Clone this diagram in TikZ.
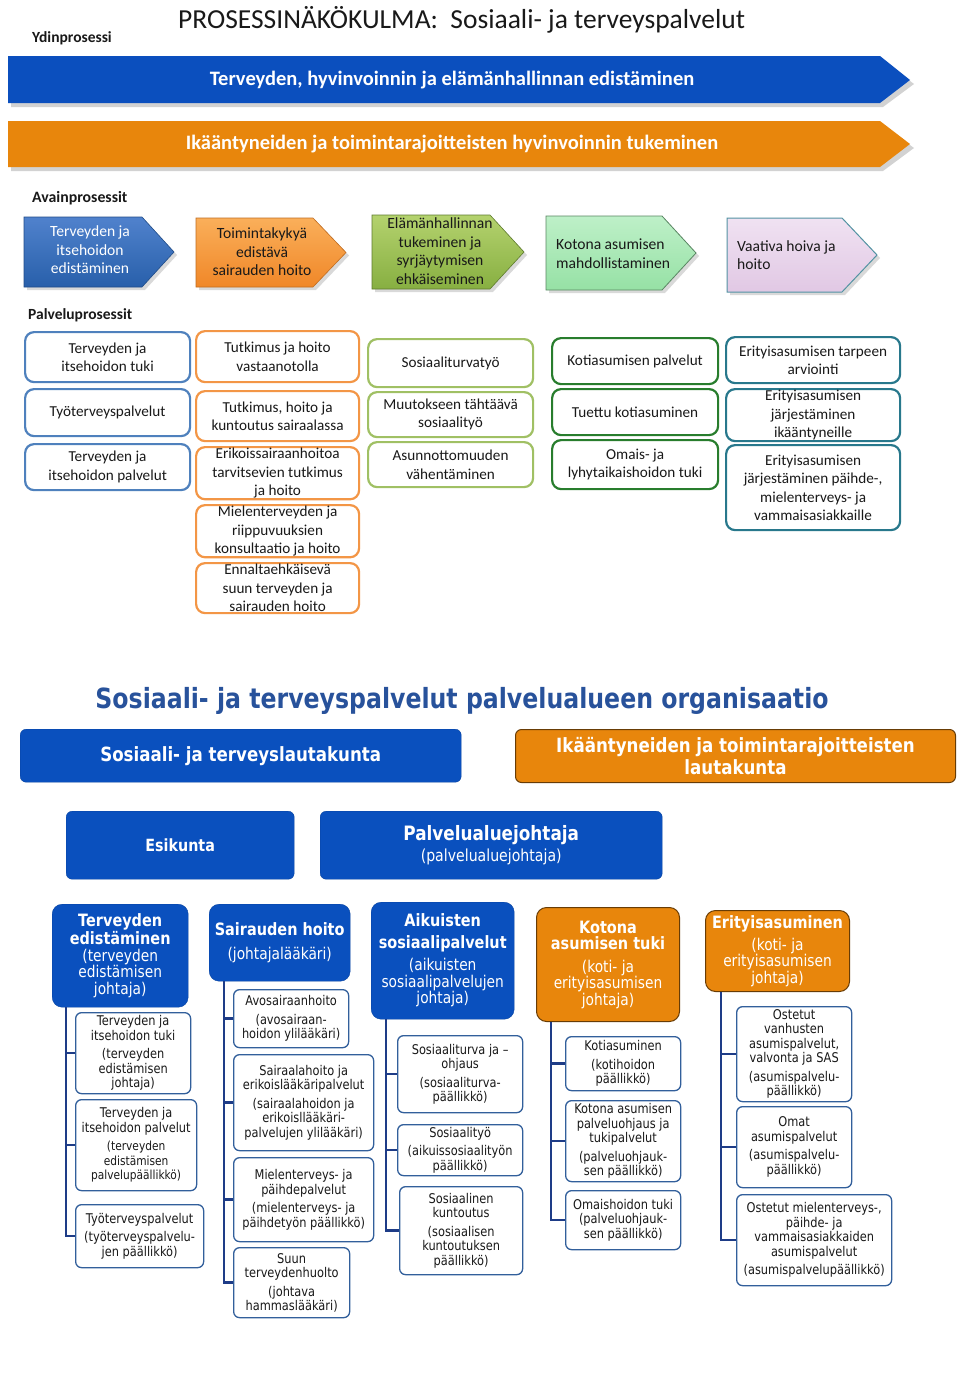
\documentclass[tikz,border=0pt]{standalone}
\usepackage{fontspec}
\setmainfont{Carlito}
\newfontfamily\vf[FakeStretch=0.85]{DejaVu Sans}
\usetikzlibrary{backgrounds}
\definecolor{banblue}{RGB}{11,79,190}
\definecolor{banorange}{RGB}{232,134,12}
\definecolor{ppblue}{RGB}{79,129,189}
\definecolor{pporange}{RGB}{243,150,70}
\definecolor{ppolive}{RGB}{160,192,100}
\definecolor{ppgreen}{RGB}{40,125,45}
\definecolor{ppteal}{RGB}{40,120,140}
\definecolor{orgblue}{RGB}{10,80,190}
\definecolor{orgorange}{RGB}{232,134,12}
\definecolor{orgtitle}{RGB}{40,82,155}
\definecolor{spinec}{RGB}{30,60,135}
\definecolor{lbord}{RGB}{50,95,155}
\definecolor{txt}{RGB}{25,25,25}
\definecolor{a1top}{RGB}{80,130,205}
\definecolor{a1bot}{RGB}{40,95,170}
\definecolor{a2top}{RGB}{250,175,90}
\definecolor{a2bot}{RGB}{240,135,40}
\definecolor{a3top}{RGB}{180,210,110}
\definecolor{a3bot}{RGB}{135,175,65}
\definecolor{a4top}{RGB}{190,240,200}
\definecolor{a4bot}{RGB}{150,225,165}
\definecolor{a5top}{RGB}{240,226,242}
\definecolor{a5bot}{RGB}{225,200,228}
\newcommand\myhead{\bfseries\fontsize{17}{18}\selectfont}
\begin{document}
\begin{tikzpicture}[x=1pt,y=-1pt,
  lbl/.style={inner sep=0pt, anchor=west, text=txt},
  bantext/.style={inner sep=0pt, text=white, font=\bfseries\fontsize{20.5}{22}\selectfont},
  ptext/.style={inner sep=0pt, align=center, font=\fontsize{15.6}{18.5}\selectfont},
  pp/.style={draw, line width=2.2pt, rounded corners=9pt, fill=white, align=center, anchor=north west, inner sep=1pt, text=txt, font=\fontsize{15.2}{18.5}\selectfont},
  org/.style={rounded corners=6pt, fill=orgblue, draw=orgblue!85!black, text=white, align=center, anchor=north west, inner sep=1pt},
  orgo/.style={org, fill=orgorange, draw=black!55!orgorange, line width=1pt},
  l2/.style={org, rounded corners=10pt, font=\vf\fontsize{16.2}{16.5}\selectfont},
  l2o/.style={l2, fill=orgorange, draw=black!55!orgorange, line width=1pt},
  l3/.style={draw=lbord, line width=1.3pt, rounded corners=6pt, fill=white, align=center, anchor=north west, inner sep=1pt, text=txt, font=\vf\fontsize{13.4}{14.5}\selectfont},
  spine/.style={draw=spinec, line width=2.6pt},
  conn/.style={draw=orgblue, line width=2pt}
]
\useasboundingbox[fill=white] (0,0) rectangle (960,1384);

% ---------- title ----------
\node[lbl, font=\fontsize{27.5}{30}\selectfont] (title) at (178,20) {PROSESSINÄKÖKULMA:\ \ Sosiaali- ja terveyspalvelut};
\node[lbl, font=\bfseries\fontsize{15.5}{17}\selectfont] (ydin) at (32,38) {Ydinprosessi};

% ---------- banners ----------
\fill[gray!35] (11,60) -- (883,60) -- (914,84) -- (883,107) -- (11,107) -- cycle;
\fill[banblue] (8,56) -- (880,56) -- (910,80) -- (880,103) -- (8,103) -- cycle;
\node[bantext] (ban1) at (452,80) {Terveyden, hyvinvoinnin ja elämänhallinnan edistäminen};
\fill[gray!35] (11,125) -- (883,125) -- (914,148) -- (883,171) -- (11,171) -- cycle;
\fill[banorange] (8,121) -- (880,121) -- (910,144) -- (880,167) -- (8,167) -- cycle;
\node[bantext] (ban2) at (452,144) {Ikääntyneiden ja toimintarajoitteisten hyvinvoinnin tukeminen};

% ---------- avainprosessit ----------
\node[lbl, font=\bfseries\fontsize{15.8}{17}\selectfont] (avain) at (32,198) {Avainprosessit};
\foreach \xa/\xb/\xc/\ya/\yb in {24/142/174/217/287, 196/313/346/218/287, 372/490/524/215/289, 546/662/696/216/290, 727/842/877/218/292}
  \fill[gray!30] (\xa+3,\ya+3) -- (\xb+3,\ya+3) -- (\xc+3,{(\ya+\yb)/2+3}) -- (\xb+3,\yb+3) -- (\xa+3,\yb+3) -- cycle;
\path[draw=a1bot!80!black, top color=a1top, bottom color=a1bot, line width=0.6pt]
  (24,217) -- (142,217) -- (174,252) -- (142,287) -- (24,287) -- cycle;
\path[draw=a2bot!80!black, top color=a2top, bottom color=a2bot, line width=0.6pt]
  (196,218) -- (313,218) -- (346,252.5) -- (313,287) -- (196,287) -- cycle;
\path[draw=a3bot!70!black, top color=a3top, bottom color=a3bot, line width=0.6pt]
  (372,215) -- (490,215) -- (524,252) -- (490,289) -- (372,289) -- cycle;
\path[draw=a4bot!60!black, top color=a4top, bottom color=a4bot, line width=0.8pt]
  (546,216) -- (662,216) -- (696,253) -- (662,290) -- (546,290) -- cycle;
\path[draw=ppteal!80!white, top color=a5top, bottom color=a5bot, line width=1pt]
  (727,218) -- (842,218) -- (877,255) -- (842,292) -- (727,292) -- cycle;
\node[ptext, text=white] (a1) at (90,250) {Terveyden ja\\itsehoidon\\edistäminen};
\node[ptext, text=txt] (a2) at (262,252) {Toimintakykyä\\edistävä\\sairauden hoito};
\node[ptext, text=txt] (a3) at (440,251) {Elämänhallinnan\\tukeminen ja\\syrjäytymisen\\ehkäiseminen};
\node[ptext, text=txt, align=left, anchor=west] (a4) at (556,253.5) {Kotona asumisen\\mahdollistaminen};
\node[ptext, text=txt, align=left, anchor=west] (a5) at (737,255) {Vaativa hoiva ja\\hoito};

% ---------- palveluprosessit ----------
\node[lbl, font=\bfseries\fontsize{15.5}{17}\selectfont] (palvelu) at (28,315) {Palveluprosessit};
\node[pp, draw=ppblue, minimum width=165, minimum height=50] (p11) at (24,331) {Terveyden ja\\itsehoidon tuki};
\node[pp, draw=ppblue, minimum width=165, minimum height=47] (p12) at (24,388) {Työterveyspalvelut};
\node[pp, draw=ppblue, minimum width=165, minimum height=46] (p13) at (24,443) {Terveyden ja\\itsehoidon palvelut};
\node[pp, draw=pporange, minimum width=163, minimum height=51] (p21) at (195,330) {Tutkimus ja hoito\\vastaanotolla};
\node[pp, draw=pporange, minimum width=163, minimum height=50] (p22) at (195,390) {Tutkimus, hoito ja\\kuntoutus sairaalassa};
\node[pp, draw=pporange, minimum width=163, minimum height=49] (p23) at (195,446) {Erikoissairaanhoitoa\\tarvitsevien tutkimus\\ja hoito};
\node[pp, draw=pporange, minimum width=163, minimum height=50] (p24) at (195,504) {Mielenterveyden ja\\riippuvuuksien\\konsultaatio ja hoito};
\node[pp, draw=pporange, minimum width=163, minimum height=50] (p25) at (195,562) {Ennaltaehkäisevä\\suun terveyden ja\\sairauden hoito};
\node[pp, draw=ppolive, minimum width=165, minimum height=48] (p31) at (367,338) {Sosiaaliturvatyö};
\node[pp, draw=ppolive, minimum width=165, minimum height=45] (p32) at (367,391) {Muutokseen tähtäävä\\sosiaalityö};
\node[pp, draw=ppolive, minimum width=165, minimum height=45] (p33) at (367,441) {Asunnottomuuden\\vähentäminen};
\node[pp, draw=ppgreen, minimum width=166, minimum height=46] (p41) at (551,337) {Kotiasumisen palvelut};
\node[pp, draw=ppgreen, minimum width=166, minimum height=46] (p42) at (551,388) {Tuettu kotiasuminen};
\node[pp, draw=ppgreen, minimum width=166, minimum height=49] (p43) at (551,439) {Omais- ja\\lyhytaikaishoidon tuki};
\node[pp, draw=ppteal, minimum width=174, minimum height=46] (p51) at (725,336) {Erityisasumisen tarpeen\\arviointi};
\node[pp, draw=ppteal, minimum width=174, minimum height=52] (p52) at (725,388) {Erityisasumisen\\järjestäminen\\ikääntyneille};
\node[pp, draw=ppteal, minimum width=174, minimum height=85] (p53) at (725,444) {Erityisasumisen\\järjestäminen päihde-,\\mielenterveys- ja\\vammaisasiakkaille};

% ---------- organisation ----------
\node[inner sep=0pt, text=orgtitle, font=\vf\bfseries\fontsize{27.8}{30}\selectfont] (orgtitle) at (462,701) {Sosiaali- ja terveyspalvelut palvelualueen organisaatio};

\node[org, minimum width=441, minimum height=53, font=\vf\bfseries\fontsize{19.6}{22}\selectfont] (slk) at (20,729) {Sosiaali- ja terveyslautakunta};
\node[orgo, minimum width=440, minimum height=53, font=\vf\bfseries\fontsize{19.6}{22}\selectfont] (ilk) at (515,729) {Ikääntyneiden ja toimintarajoitteisten\\lautakunta};
\node[org, minimum width=228, minimum height=68, font=\vf\bfseries\fontsize{16.8}{20}\selectfont] (esk) at (66,811) {Esikunta};
\node[org, minimum width=342, minimum height=68, font=\vf\fontsize{16.6}{21}\selectfont] (pj) at (320,811) {{\bfseries\fontsize{19.8}{21}\selectfont Palvelualuejohtaja}\\(palvelualuejohtaja)};

\node[l2, minimum width=136, minimum height=103] (l2a) at (52,904) {{\myhead Terveyden}\\{\myhead edistäminen}\\(terveyden\\edistämisen\\johtaja)};
\node[l2, minimum width=141, minimum height=77] (l2b) at (209,904) {{\myhead Sairauden hoito}\\[7pt](johtajalääkäri)};
\node[l2, minimum width=143, minimum height=117] (l2c) at (371,902) {{\myhead Aikuisten}\\[5pt]{\myhead sosiaalipalvelut}\\[6pt](aikuisten\\sosiaalipalvelujen\\johtaja)};
\node[l2o, minimum width=143, minimum height=114] (l2d) at (536,907) {{\myhead Kotona}\\{\myhead asumisen tuki}\\[6pt](koti- ja\\erityisasumisen\\johtaja)};
\node[l2o, minimum width=144, minimum height=81] (l2e) at (705,910) {{\myhead Erityisasuminen}\\[5pt](koti- ja\\erityisasumisen\\johtaja)};

\begin{scope}[on background layer]
  \coordinate (jn) at (pj.north |- slk.east);
  \draw[conn] (slk.east) -- (ilk.west);
  \draw[conn] (jn) -- (pj.north);
  \draw[conn] (esk.east) -- (pj.west);
  \coordinate (bus) at (pj.south |- 0,905);
  \coordinate (busR) at (763,905);
  \draw[conn] (pj.south) -- (bus);
  \draw[conn] (l2a.north |- bus) -- (busR) -- (busR |- l2e.north);
\end{scope}

% level 3
\node[l3, minimum width=115, minimum height=81] (c1a) at (75,1012) {Terveyden ja\\itsehoidon tuki\\[4pt](terveyden\\edistämisen\\johtaja)};
\node[l3, minimum width=121, minimum height=91] (c1b) at (75,1099) {Terveyden ja\\itsehoidon palvelut\\[4pt]{\fontsize{12.5}{13}\selectfont(terveyden}\\{\fontsize{12.5}{13}\selectfont edistämisen}\\{\fontsize{12.5}{13}\selectfont palvelupäällikkö)}};
\node[l3, minimum width=128, minimum height=63] (c1c) at (75,1204) {Työterveyspalvelut\\[4pt](työterveyspalvelu-\\jen päällikkö)};
\node[l3, minimum width=115, minimum height=58] (c2a) at (233,989) {Avosairaanhoito\\[4pt](avosairaan-\\hoidon ylilääkäri)};
\node[l3, minimum width=140, minimum height=96] (c2b) at (233,1054) {Sairaalahoito ja\\erikoislääkäripalvelut\\[4pt](sairaalahoidon ja\\erikoisllääkäri-\\palvelujen ylilääkäri)};
\node[l3, minimum width=140, minimum height=84] (c2c) at (233,1157) {Mielenterveys- ja\\päihdepalvelut\\[4pt](mielenterveys- ja\\päihdetyön päällikkö)};
\node[l3, minimum width=116, minimum height=70] (c2d) at (233,1247) {Suun\\terveydenhuolto\\[4pt](johtava\\hammaslääkäri)};
\node[l3, minimum width=125, minimum height=77] (c3a) at (397,1035) {Sosiaaliturva ja –\\ohjaus\\[4pt](sosiaaliturva-\\päällikkö)};
\node[l3, minimum width=125, minimum height=51] (c3b) at (397,1124) {Sosiaalityö\\[4pt](aikuissosiaalityön\\päällikkö)};
\node[l3, minimum width=123, minimum height=88] (c3c) at (399,1186) {Sosiaalinen\\kuntoutus\\[4pt](sosiaalisen\\kuntoutuksen\\päällikkö)};
\node[l3, minimum width=115, minimum height=54] (c4a) at (565,1036) {Kotiasuminen\\[4pt](kotihoidon\\päällikkö)};
\node[l3, minimum width=115, minimum height=81] (c4b) at (565,1100) {Kotona asumisen\\palveluohjaus ja\\tukipalvelut\\[4pt](palveluohjauk-\\sen päällikkö)};
\node[l3, minimum width=115, minimum height=59] (c4c) at (565,1190) {Omaishoidon tuki\\(palveluohjauk-\\sen päällikkö)};
\node[l3, minimum width=115, minimum height=95] (c5a) at (736,1006) {Ostetut\\vanhusten\\asumispalvelut,\\valvonta ja SAS\\[4pt](asumispalvelu-\\päällikkö)};
\node[l3, minimum width=115, minimum height=81] (c5b) at (736,1106) {Omat\\asumispalvelut\\[4pt](asumispalvelu-\\päällikkö)};
\node[l3, minimum width=155, minimum height=91] (c5c) at (736,1194) {Ostetut mielenterveys-,\\päihde- ja\\vammaisasiakkaiden\\asumispalvelut\\[4pt](asumispalvelupäällikkö)};

% spines
\coordinate (s1) at (66,0);
\coordinate (s2) at (224,0);
\coordinate (s3) at (386,0);
\coordinate (s4) at (551,0);
\coordinate (s5) at (721,0);
\draw[spine] (s1 |- l2a.south) |- (c1c.west);
\draw[spine] (s1 |- c1a.west) -- (c1a.west);
\draw[spine] (s1 |- c1b.west) -- (c1b.west);
\draw[spine] (s2 |- l2b.south) |- (c2d.west);
\draw[spine] (s2 |- c2a.west) -- (c2a.west);
\draw[spine] (s2 |- c2b.west) -- (c2b.west);
\draw[spine] (s2 |- c2c.west) -- (c2c.west);
\draw[spine] (s3 |- l2c.south) |- (c3c.west);
\draw[spine] (s3 |- c3a.west) -- (c3a.west);
\draw[spine] (s3 |- c3b.west) -- (c3b.west);
\draw[spine] (s4 |- l2d.south) |- (c4c.west);
\draw[spine] (s4 |- c4a.west) -- (c4a.west);
\draw[spine] (s4 |- c4b.west) -- (c4b.west);
\draw[spine] (s5 |- l2e.south) |- (c5c.west);
\draw[spine] (s5 |- c5a.west) -- (c5a.west);
\draw[spine] (s5 |- c5b.west) -- (c5b.west);
\end{tikzpicture}
\end{document}
